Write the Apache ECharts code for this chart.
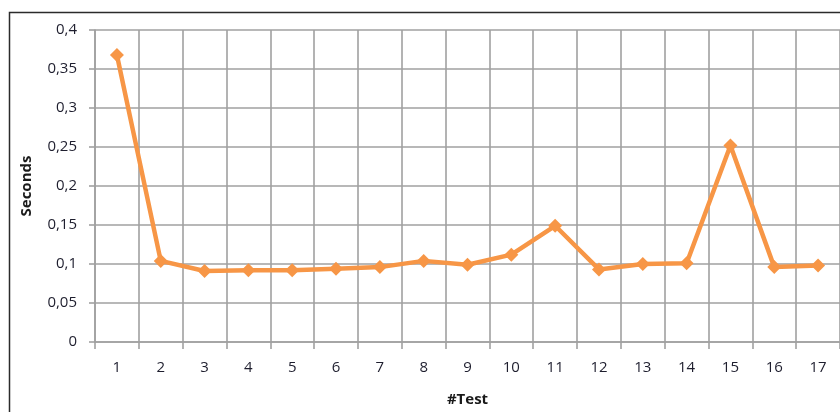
<!DOCTYPE html>
<html>
<head>
<meta charset="utf-8">
<script src="https://cdn.jsdelivr.net/npm/echarts@6/dist/echarts.min.js"></script>
<style>html,body{margin:0;padding:0;background:#fff}#c{width:840px;height:412px}</style>
</head>
<body>
<div id="c"></div>
<script>
var categories = ['1','2','3','4','5','6','7','8','9','10','11','12','13','14','15','16','17'];
var seconds = [0.368,0.104,0.091,0.092,0.092,0.094,0.096,0.104,0.099,0.112,0.149,0.093,0.100,0.101,0.252,0.096,0.098];
var yTicks = [0,0.05,0.1,0.15,0.2,0.25,0.3,0.35,0.4];

var chart = echarts.init(document.getElementById('c'));
var fontFam = '"Open Sans", "Liberation Sans", sans-serif';
var gridColor = '#a0a0a0';
chart.setOption({
  animation: false,
  backgroundColor: '#fff',
  graphic: [{
    type: 'rect', shape: {x: 9.5, y: 12.5, width: 900, height: 500},
    style: {fill: 'none', stroke: '#2b2b2b', lineWidth: 1.5}, z: -1
  }],
  grid: {left: 95, top: 30, right: -3, bottom: 68},
  xAxis: {
    type: 'category',
    data: categories,
    boundaryGap: true,
    name: '#Test',
    nameLocation: 'middle',
    nameGap: 50,
    nameTextStyle: {fontFamily: fontFam, fontSize: 15, fontWeight: 'bold', color: '#1a1a1a'},
    axisLine: {lineStyle: {color: gridColor, width: 1.6}},
    axisTick: {show: true, length: 7, lineStyle: {color: gridColor, width: 1.6}},
    axisLabel: {fontFamily: fontFam, fontSize: 15, color: '#1e1e2e', margin: 18},
    splitLine: {show: true, lineStyle: {color: gridColor, width: 1.6}}
  },
  yAxis: {
    type: 'value',
    min: 0, max: 0.4, interval: 0.05,
    name: 'Seconds',
    nameLocation: 'middle',
    nameGap: 61,
    nameTextStyle: {fontFamily: fontFam, fontSize: 15, fontWeight: 'bold', color: '#1a1a1a'},
    axisLine: {show: true, lineStyle: {color: gridColor, width: 1.6}},
    axisTick: {show: true, length: 6, lineStyle: {color: gridColor, width: 1.6}},
    axisLabel: {
      fontFamily: fontFam, fontSize: 15, color: '#1e1e2e', margin: 18,
      formatter: function (v) {
        var s = String(Math.round(v * 100) / 100);
        return s.replace('.', ',');
      }
    },
    splitLine: {show: true, lineStyle: {color: gridColor, width: 1.6}}
  },
  series: [{
    type: 'line',
    data: seconds,
    symbol: 'diamond',
    symbolSize: 14,
    lineStyle: {color: '#F79646', width: 4.5},
    itemStyle: {color: '#F79646'}
  }]
});
</script>
</body>
</html>
